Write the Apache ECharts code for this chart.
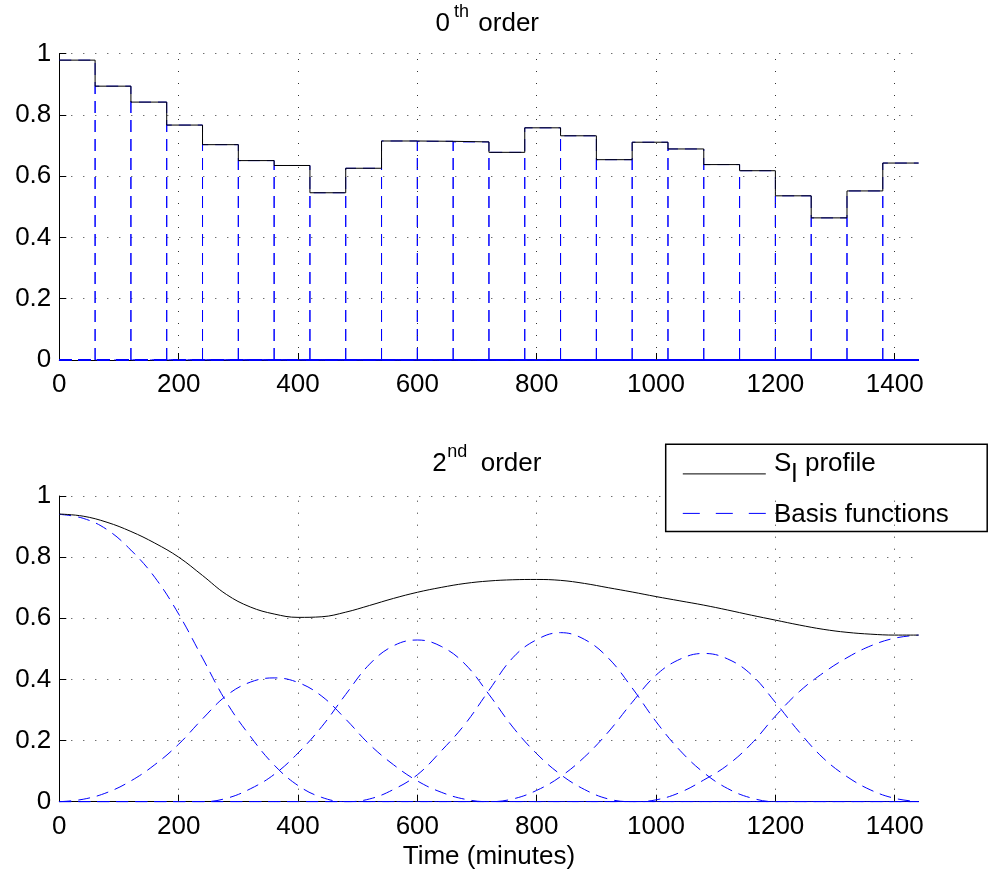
<!DOCTYPE html>
<html><head><meta charset="utf-8">
<script src="https://cdn.jsdelivr.net/npm/echarts@6/dist/echarts.min.js"></script>
<style>html,body{margin:0;padding:0;background:#fff}#c{width:988px;height:880px}</style>
</head><body><div id="c"></div>
<script>
// ---------- data ----------
const stepEdges = [0,60,120,180,240,300,360,420,480,540,600,660,720,780,840,900,960,1020,1080,1140,1200,1260,1320,1380,1440];
const stepValues = [0.979,0.894,0.842,0.767,0.703,0.651,0.635,0.546,0.626,0.715,0.714,0.712,0.678,0.758,0.732,0.654,0.711,0.689,0.638,0.618,0.536,0.464,0.552,0.643];

const splineTimes = [0,40,80,120,160,200,240,280,320,360,400,440,480,520,560,600,640,680,720,760,800,840,880,920,960,1000,1040,1080,1120,1160,1200,1240,1280,1320,1360,1400,1440];
const profile2 = [0.941,0.934,0.914,0.884,0.846,0.80,0.740,0.678,0.637,0.614,0.603,0.605,0.620,0.642,0.665,0.685,0.701,0.714,0.722,0.726,0.727,0.724,0.714,0.700,0.686,0.671,0.657,0.643,0.627,0.610,0.594,0.578,0.564,0.554,0.548,0.545,0.545];
const basisA = [0.94,0.927,0.89,0.823,0.734,0.614,0.47,0.326,0.214,0.12,0.053,0.014,0,0,0,0,0,0,0,0,0,0,0,0,0,0,0,0,0,0,0,0,0,0,0,0,0];
const basisB = [0,0.008,0.03,0.068,0.121,0.188,0.271,0.347,0.391,0.405,0.39,0.345,0.27,0.187,0.121,0.068,0.031,0.008,0,0,0,0,0,0,0,0,0,0,0,0,0,0,0,0,0,0,0];
const basisC = [0,0,0,0,0,0,0,0.011,0.042,0.089,0.159,0.246,0.351,0.45,0.51,0.529,0.508,0.45,0.351,0.244,0.157,0.089,0.04,0.009,0,0,0,0,0,0,0,0,0,0,0,0,0];
const basisD = [0,0,0,0,0,0,0,0,0,0,0,0,0,0.009,0.04,0.088,0.166,0.254,0.364,0.471,0.53,0.553,0.531,0.47,0.372,0.262,0.168,0.095,0.043,0.012,0,0,0,0,0,0,0];
const basisE = [0,0,0,0,0,0,0,0,0,0,0,0,0,0,0,0,0,0,0,0.009,0.037,0.082,0.146,0.228,0.325,0.414,0.466,0.485,0.467,0.415,0.325,0.228,0.143,0.082,0.038,0.011,0];
const basisF = [0,0,0,0,0,0,0,0,0,0,0,0,0,0,0,0,0,0,0,0,0,0,0,0,0,0.006,0.03,0.071,0.12,0.19,0.28,0.36,0.421,0.471,0.51,0.535,0.545];

const xTicks = [0,200,400,600,800,1000,1200,1400];
const xGridLines = [200,400,600,800,1000,1200,1400];
const yTicks = [0,0.2,0.4,0.6,0.8,1];

const profileName = 'Sl profile';
const basisName = 'Basis functions';

// ---------- styles ----------
const FONT = 'Liberation Sans, Arial, Helvetica, sans-serif';
const BLUE = '#0000ff';
const DASH = [12, 7];
const DOT = {type: [1, 11], color: '#333', width: 1};

function zip(xs, ys) { return xs.map((x, i) => [x, ys[i]]); }

const series = [];
// top: 0th order basis boxes (verticals drawn bottom-up as their own sub-paths so dashes stay in phase)
const xEnd = stepEdges[stepEdges.length - 1];
for (let i = 0; i < stepValues.length; i++) {
  const a = stepEdges[i], b = stepEdges[i + 1], v = stepValues[i];
  const last = i === stepValues.length - 1;
  let pts = [];
  if (i === 0) {
    pts.push([a, v], [b, v], [b, null]);
  } else {
    pts.push([stepEdges[0], 0], [a, 0], [a, null]);
    pts.push([a, 0], [a, v], [b, v], [b, null]);
  }
  if (!last) {
    pts.push([b, 0], [b, v], [b, null]);
    pts.push([b, 0], [xEnd, 0]);
  }
  series.push({
    name: basisName, type: 'line', xAxisIndex: 0, yAxisIndex: 0, data: pts, connectNulls: false,
    symbol: 'none', lineStyle: {color: BLUE, width: 1, type: DASH}, itemStyle: {color: BLUE},
    z: 2, silent: true
  });
}
// top: step profile
const stepPts = stepValues.map((v, i) => [stepEdges[i], v]);
stepPts.push([xEnd, stepValues[stepValues.length - 1]]);
series.push({
  name: profileName, type: 'line', xAxisIndex: 0, yAxisIndex: 0, data: stepPts, step: 'end',
  symbol: 'none', lineStyle: {color: '#000', width: 1}, itemStyle: {color: '#000'}, z: 3, silent: true,
  markLine: {silent: true, symbol: ['none', 'none'], label: {show: false}, lineStyle: DOT, animation: false,
    data: xGridLines.map(v => ({xAxis: v}))}
});
// bottom: 2nd order basis
[basisA, basisB, basisC, basisD, basisE, basisF].forEach(b => {
  series.push({
    name: basisName, type: 'line', xAxisIndex: 1, yAxisIndex: 1, data: zip(splineTimes, b), smooth: 0.4,
    symbol: 'none', lineStyle: {color: BLUE, width: 1, type: DASH}, itemStyle: {color: BLUE}, z: 2, silent: true
  });
});
series.push({
  name: profileName, type: 'line', xAxisIndex: 1, yAxisIndex: 1, data: zip(splineTimes, profile2), smooth: 0.4,
  symbol: 'none', lineStyle: {color: '#000', width: 1}, itemStyle: {color: '#000'}, z: 3, silent: true,
  markLine: {silent: true, symbol: ['none', 'none'], label: {show: false}, lineStyle: DOT, animation: false,
    data: xGridLines.map(v => ({xAxis: v}))}
});

function xAxis(gi, withName) {
  const ax = {
    type: 'value', gridIndex: gi, min: 0, max: 1440, interval: 200,
    axisLine: {show: true, lineStyle: {color: '#000', width: 1}},
    axisTick: {show: true, inside: true, length: 7, lineStyle: {color: '#000'}, customValues: xTicks},
    axisLabel: {color: '#000', fontSize: 26, fontFamily: FONT, margin: 12, customValues: xTicks,
      formatter: v => (xTicks.indexOf(v) >= 0 ? String(v) : '')},
    splitLine: {show: false}
  };
  if (withName) {
    ax.name = 'Time (minutes)';
    ax.nameLocation = 'middle';
    ax.nameGap = 42;
    ax.nameTextStyle = {color: '#000', fontSize: 26, fontFamily: FONT};
  }
  return ax;
}
function yAxis(gi) {
  return {
    type: 'value', gridIndex: gi, min: 0, max: 1, interval: 0.2,
    axisLine: {show: true, lineStyle: {color: '#000', width: 1}},
    axisTick: {show: true, inside: true, length: 7, lineStyle: {color: '#000'}},
    axisLabel: {color: '#000', fontSize: 26, fontFamily: FONT, margin: 8,
      formatter: v => String(yTicks.find(t => Math.abs(t - v) < 1e-9))},
    splitLine: {show: true, lineStyle: DOT}
  };
}

function txt(text, x, y, size) {
  return {type: 'text', x: x, y: y, silent: true, z: 10,
    style: {text: text, fill: '#000', fontSize: size, fontFamily: FONT,
      textAlign: 'left', textVerticalAlign: 'middle', verticalAlign: 'middle'}};
}

const option = {
  animation: false,
  backgroundColor: '#fff',
  grid: [
    {left: 59.3, top: 53.7, width: 859.3, height: 306.3, containLabel: false},
    {left: 59.3, top: 496, width: 859.3, height: 305.7, containLabel: false}
  ],
  xAxis: [xAxis(0, false), xAxis(1, true)],
  yAxis: [yAxis(0), yAxis(1)],
  legend: {
    orient: 'vertical', left: 665.7, top: 444.3, selectedMode: false,
    itemWidth: 83, itemHeight: 14, itemGap: 28.3,
    padding: [24, 216.4, 12.5, 16.6],
    backgroundColor: '#fff', borderColor: '#000', borderWidth: 1.5, borderRadius: 0,
    data: [
      {name: profileName, lineStyle: {color: '#000', width: 1, type: 'solid'},
        itemStyle: {color: 'rgba(0,0,0,0)', borderWidth: 0, opacity: 0}},
      {name: basisName, lineStyle: {color: BLUE, width: 1, type: [17, 16]},
        itemStyle: {color: 'rgba(0,0,0,0)', borderWidth: 0, opacity: 0}}
    ],
    formatter: () => '',
    textStyle: {fontSize: 1, lineHeight: 1}
  },
  graphic: [
    // panel titles (with superscripts)
    txt('0', 435.5, 24, 26), txt('th', 454, 11.7, 18), txt('order', 478.3, 24, 26),
    txt('2', 432.3, 464.2, 26), txt('nd', 447.3, 451.6, 18), txt('order', 480.7, 464.2, 26),
    // legend labels (with subscript)
    txt('S', 774, 463.9, 26), txt('l', 791.5, 475.3, 26), txt('profile', 805, 463.9, 26),
    txt(basisName, 774, 515, 26)
  ],
  series: series
};

const chart = echarts.init(document.getElementById('c'), null, {renderer: 'canvas'});
chart.setOption(option);
</script>
</body></html>
